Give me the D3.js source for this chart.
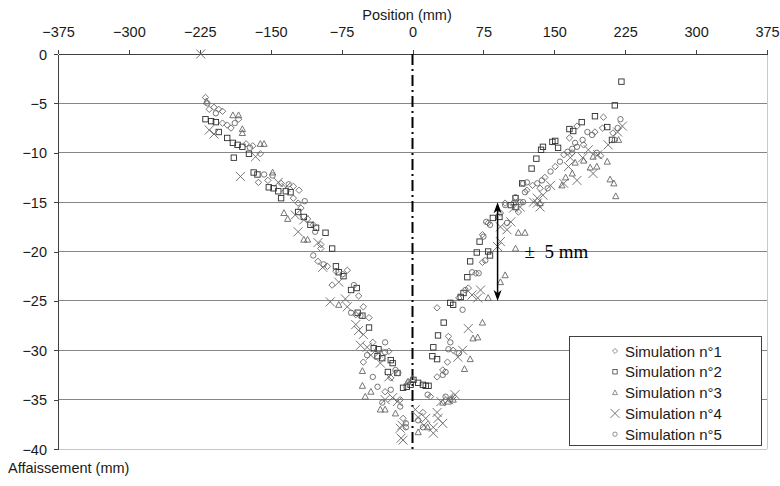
<!DOCTYPE html>
<html><head><meta charset="utf-8">
<script src="https://cdn.jsdelivr.net/npm/d3@7"></script>
<style>body{margin:0;background:#fff}svg{display:block;font-family:Arial,"Liberation Sans",sans-serif}</style>
</head><body><svg id="c" width="780" height="486"></svg>
<script>
// ---- data (position mm, affaissement mm) ----
const seriesNames = ["Simulation n°1","Simulation n°2","Simulation n°3","Simulation n°4","Simulation n°5"];
const xTicks = [-375,-300,-225,-150,-75,0,75,150,225,300,375];
const yTicks = [0,-5,-10,-15,-20,-25,-30,-35,-40];
const sim1 = [[-219,-4.4],[-215,-5.6],[-210,-5.4],[-205,-5.6],[-201,-5.8],[-184,-6.6],[-201,-7.0],[-196,-7.2],[-192,-7.5],[-176,-9.1],[-169,-9.3],[-161,-10.1],[-153,-12.8],[-163,-13.0],[-139,-13.1],[-126,-13.4],[-120,-13.8],[-126,-14.6],[-121,-15.1],[-118,-15.6],[-111,-16.7],[-105,-17.3],[-97,-19.3],[-97,-19.7],[-100,-21.0],[-90,-21.5],[-81,-22.0],[-69,-21.9],[-85,-23.4],[-57,-24.5],[-52,-25.6],[-46,-26.7],[-60,-26.4],[-42,-29.2],[-25,-30.1],[-52,-31.2],[-23,-32.8],[-29,-34.2],[-13,-35.0],[-10,-36.9],[-4,-33.2],[26,-25.7],[38,-28.6],[43,-30.0],[37,-31.2],[32,-32.0],[26,-32.7],[19,-34.7],[43,-34.7],[11,-36.3],[49,-24.7],[59,-23.7],[67,-22.2],[74,-21.1],[74,-18.3],[80,-17.1],[93,-16.1],[112,-16.0],[121,-13.8],[98,-15.1],[114,-15.0],[127,-13.3],[135,-13.6],[140,-12.5],[151,-11.4],[160,-10.2],[169,-10.0],[166,-8.5],[181,-9.2],[174,-7.3],[193,-7.9],[201,-7.5],[212,-8.0],[202,-6.4],[199,-10.3]];
const sim2 = [[-219,-6.6],[-213,-6.8],[-208,-6.9],[-205,-7.9],[-196,-8.5],[-190,-9.0],[-185,-9.2],[-180,-9.4],[-189,-10.5],[-173,-10.1],[-168,-12.0],[-164,-12.2],[-152,-13.5],[-147,-13.6],[-142,-13.9],[-134,-13.9],[-129,-14.0],[-139,-14.6],[-121,-16.0],[-115,-16.5],[-108,-17.3],[-102,-17.6],[-92,-18.1],[-85,-19.7],[-81,-21.5],[-78,-22.1],[-73,-22.5],[-65,-23.9],[-59,-23.7],[-58,-26.2],[-53,-26.5],[-46,-27.7],[-41,-29.8],[-36,-29.9],[-37,-30.6],[-32,-30.8],[-23,-31.0],[-21,-31.3],[-26,-32.2],[-16,-32.3],[-10,-33.8],[-6,-33.7],[-2,-33.5],[1,-33.0],[6,-33.3],[11,-33.5],[14,-33.6],[17,-33.6],[27,-28.5],[33,-27.2],[22,-29.7],[26,-30.9],[21,-30.6],[40,-25.2],[43,-25.4],[51,-24.6],[54,-24.2],[58,-22.6],[61,-21.0],[68,-20.1],[80,-20.0],[82,-20.4],[71,-19.0],[85,-16.6],[92,-16.5],[104,-15.3],[109,-14.6],[109,-15.5],[116,-13.1],[126,-11.6],[131,-10.6],[136,-9.7],[138,-9.4],[148,-8.9],[151,-8.8],[154,-9.5],[166,-7.6],[170,-7.8],[179,-6.9],[193,-6.3],[206,-7.4],[211,-8.7],[214,-5.2],[221,-2.8]];
const sim3 = [[-218,-4.8],[-190,-6.2],[-184,-6.2],[-180,-7.6],[-180,-8.0],[-161,-9.1],[-157,-9.1],[-148,-12.0],[-136,-16.1],[-132,-16.7],[-115,-18.8],[-111,-18.8],[-78,-25.4],[-53,-32.1],[-53,-33.6],[-44,-34.2],[-50,-34.7],[-34,-36.0],[-29,-36.0],[-18,-36.4],[0,-32.9],[-5,-33.2],[6,-38.3],[16,-37.8],[32,-35.3],[38,-35.2],[43,-35.0],[55,-31.9],[61,-30.9],[64,-28.8],[69,-28.7],[74,-27.2],[80,-24.7],[93,-23.1],[98,-22.4],[109,-19.7],[112,-18.1],[119,-18.1],[135,-15.1],[158,-13.3],[162,-12.5],[169,-12.1],[172,-11.0],[181,-10.8],[188,-11.5],[195,-11.4],[191,-10.4],[206,-10.9],[209,-12.7],[213,-13.1],[215,-14.4],[218,-8.7]];
const sim4 = [[-224,0],[-215,-7.7],[-210,-8.1],[-166,-10.4],[-182,-12.4],[-142,-13.0],[-134,-13.5],[-124,-16.3],[-115,-16.8],[-121,-18.0],[-100,-19.1],[-95,-21.6],[-78,-23.1],[-87,-25.1],[-71,-24.8],[-69,-25.6],[-60,-27.4],[-57,-28.0],[-52,-28.4],[-55,-29.5],[-48,-29.7],[-44,-30.5],[-36,-30.3],[-34,-31.3],[-25,-32.7],[-29,-35.0],[-21,-34.8],[-16,-35.2],[-11,-37.6],[-13,-37.9],[-10,-39.1],[-12,-38.9],[3,-36.0],[6,-36.8],[14,-36.9],[12,-37.6],[22,-38.4],[26,-36.3],[27,-36.9],[32,-37.4],[22,-37.8],[30,-35.2],[38,-35.0],[45,-34.5],[53,-30.0],[48,-30.7],[59,-27.8],[63,-24.4],[69,-24.7],[72,-23.9],[90,-19.5],[93,-19.0],[93,-17.5],[100,-17.8],[104,-17.0],[107,-15.6],[114,-15.5],[132,-15.1],[135,-15.5],[138,-14.3],[132,-14.6],[128,-15.0],[160,-13.1],[146,-13.3],[174,-12.8],[191,-12.1],[165,-11.4],[167,-10.5],[180,-10.5],[186,-9.7],[196,-10.2],[207,-9.2],[222,-7.3],[217,-7.9]];
const sim5 = [[-217,-5.0],[-208,-6.0],[-188,-7.0],[-172,-9.5],[-157,-12.2],[-148,-12.3],[-131,-13.2],[-114,-14.9],[-103,-18.0],[-105,-20.4],[-94,-21.3],[-74,-22.3],[-62,-23.4],[-65,-26.2],[-55,-26.5],[-29,-29.2],[-48,-30.5],[-29,-30.2],[-42,-32.7],[-37,-33.7],[-18,-32.0],[-15,-32.3],[-23,-34.0],[-32,-35.3],[-13,-35.7],[-7,-37.8],[-7,-37.4],[53,-25.9],[40,-29.2],[38,-29.9],[49,-30.3],[35,-32.2],[32,-32.5],[16,-34.5],[35,-34.7],[40,-35.0],[6,-37.1],[11,-37.8],[56,-23.9],[63,-22.1],[70,-22.2],[77,-20.9],[75,-18.5],[82,-17.3],[78,-17.0],[100,-17.1],[98,-15.3],[117,-15.0],[117,-13.1],[109,-14.5],[107,-15.1],[119,-14.0],[121,-13.0],[132,-13.1],[137,-12.8],[143,-13.6],[146,-11.9],[156,-10.9],[164,-9.9],[172,-9.0],[174,-9.4],[169,-9.6],[180,-8.7],[185,-7.9],[190,-8.2],[195,-10.0],[214,-8.7],[217,-7.5],[220,-6.6]];
const annotation = {x: 90, top: -15, bottom: -25, label: "±  5 mm"};

// ---- layout ----
const svg = d3.select("#c");
const x = d3.scaleLinear().domain([-375,375]).range([58,767]);
const y = d3.scaleLinear().domain([-40,0]).range([449,54]);

// grid
svg.append("g").selectAll("line").data(yTicks.filter(v=>v<0 && v>-40)).join("line")
  .attr("x1",x(-375)).attr("x2",x(375)).attr("y1",d=>y(d)).attr("y2",d=>y(d))
  .attr("stroke","#868686").attr("stroke-width",1).attr("shape-rendering","crispEdges");
// plot border bottom & right
svg.append("line").attr("x1",x(-375)).attr("x2",x(375)).attr("y1",y(-40)).attr("y2",y(-40))
  .attr("stroke","#c8c8c8").attr("shape-rendering","crispEdges");
svg.append("line").attr("x1",x(375)).attr("x2",x(375)).attr("y1",y(0)).attr("y2",y(-40))
  .attr("stroke","#c8c8c8").attr("shape-rendering","crispEdges");

// axes
const topAxis = svg.append("g").attr("transform",`translate(0,${y(0)})`)
  .call(d3.axisTop(x).tickValues(xTicks).tickSize(4).tickSizeOuter(0).tickFormat(d3.format("d")));
const leftAxis = svg.append("g").attr("transform",`translate(${x(-375)},0)`)
  .call(d3.axisLeft(y).tickValues(yTicks).tickSize(4).tickSizeOuter(0).tickFormat(d3.format("d")));
[topAxis,leftAxis].forEach(g=>{
  g.select(".domain").attr("stroke","#404040").attr("shape-rendering","crispEdges");
  g.selectAll(".tick line").attr("stroke","#404040").attr("shape-rendering","crispEdges");
  g.selectAll(".tick text").attr("fill","#1a1a1a").style("font-family","Arial, 'Liberation Sans', sans-serif").style("font-size","14.5px");
});
topAxis.selectAll(".tick text").attr("dy",0).attr("y",-17);
leftAxis.selectAll(".tick text").attr("x",-11).attr("dy","0.35em");

// axis titles
svg.append("text").attr("x",407).attr("y",20).attr("text-anchor","middle")
  .style("font-size","14.5px").attr("fill","#1a1a1a").text("Position (mm)");
svg.append("text").attr("x",8).attr("y",473)
  .style("font-size","14.5px").attr("fill","#1a1a1a").text("Affaissement (mm)");

// centre dash-dot line
svg.append("line").attr("x1",x(0)).attr("x2",x(0)).attr("y1",y(0)).attr("y2",y(-40))
  .attr("stroke","#000").attr("stroke-width",2).attr("stroke-dasharray","11,4,2,4");

// markers
const sym = {
  diamond: (g)=>g.append("path").attr("d","M0,-3.2L3.2,0L0,3.2L-3.2,0Z"),
  square: (g)=>g.append("rect").attr("x",-2.7).attr("y",-2.7).attr("width",5.4).attr("height",5.4),
  triangle: (g)=>g.append("path").attr("d","M0,-3.3L3.1,2.5L-3.1,2.5Z"),
  cross: (g)=>g.append("path").attr("d","M-4.5,-4.5L4.5,4.5M-4.5,4.5L4.5,-4.5"),
  circle: (g)=>g.append("circle").attr("r",2.7)
};
const shapes = ["diamond","square","triangle","cross","circle"];
const colors = ["#666666","#2e2e2e","#666666","#666666","#666666"];
const allSeries = [sim1,sim2,sim3,sim4,sim5];
allSeries.forEach((data,i)=>{
  const g = svg.append("g").attr("fill","none").attr("stroke",colors[i]).attr("stroke-width",0.9);
  data.forEach(d=>{
    sym[shapes[i]](g.append("g").attr("transform",`translate(${x(d[0])},${y(d[1])})`));
  });
});

// annotation arrow
const ax = x(annotation.x), ay1 = y(annotation.top), ay2 = y(annotation.bottom);
svg.append("line").attr("x1",ax).attr("x2",ax).attr("y1",ay1+8).attr("y2",ay2-8)
  .attr("stroke","#000").attr("stroke-width",1.5);
svg.append("path").attr("d",`M${ax},${ay1}L${ax+4},${ay1+11}L${ax},${ay1+8}L${ax-4},${ay1+11}Z`).attr("fill","#000");
svg.append("path").attr("d",`M${ax},${ay2}L${ax+4},${ay2-11}L${ax},${ay2-8}L${ax-4},${ay2-11}Z`).attr("fill","#000");
svg.append("text").attr("x",ax+27).attr("y",(ay1+ay2)/2+6)
  .style("font-family","'Liberation Serif','Times New Roman',serif").style("font-size","19px")
  .style("white-space","pre").attr("fill","#000").text(annotation.label);

// legend
const lg = svg.append("g");
lg.append("rect").attr("x",569.5).attr("y",336.5).attr("width",192).attr("height",109)
  .attr("fill","#fff").attr("stroke","#404040");
seriesNames.forEach((n,i)=>{
  const cy = 351 + i*20.8;
  const g = lg.append("g").attr("fill","none").attr("stroke",colors[i]).attr("stroke-width",0.9);
  const mg = g.append("g").attr("transform",`translate(615,${cy})${shapes[i]==="cross"?"":" scale(0.8)"}`);
  sym[shapes[i]](mg);
  lg.append("text").attr("x",625).attr("y",cy+5.5).style("font-size","15px").attr("fill","#1a1a1a").text(n);
});
</script></body></html>
